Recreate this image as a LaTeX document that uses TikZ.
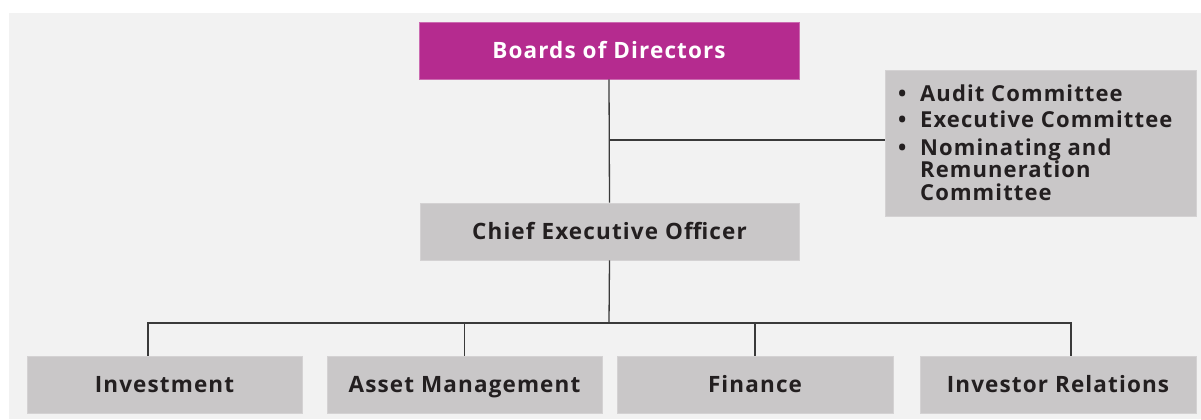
\documentclass[tikz,border=0pt]{standalone}
\usepackage{fontspec}
\setmainfont{Open Sans}[LetterSpace=5]
\definecolor{bgc}{HTML}{F2F2F2}
\definecolor{boxc}{HTML}{C9C7C8}
\definecolor{magc}{HTML}{B52B8F}
\definecolor{txtc}{HTML}{231F20}
\definecolor{linec}{HTML}{3A3A3A}
\tikzset{
  unitbox/.style={fill=boxc, draw=boxc!80!white, line width=0.6bp, inner sep=0pt, minimum height=57bp, text height=17bp, text depth=2bp, text=txtc, font=\bfseries\fontsize{22.5bp}{24bp}\selectfont},
  bossbox/.style={unitbox, fill=magc, draw=magc!70!white, text=white},
  comline/.style={anchor=base west, inner sep=0pt, text height=16bp, text depth=1bp, text=txtc, font=\bfseries\fontsize{22bp}{22bp}\selectfont},
  wire/.style={draw=linec, line width=1.3bp}
}
\begin{document}
\begin{tikzpicture}[x=1bp,y=-1bp]
\useasboundingbox (0,0) rectangle (1201,419);
\fill[white] (0,0) rectangle (1201,419);
\fill[bgc] (9,13) rectangle (1201,419);
\node[bossbox, minimum width=380bp] (bod) at (609,50.5) {Boards of Directors};
\node[unitbox, minimum width=379bp] (ceo) at (609.5,231.5) {Chief Executive Officer};
\node[unitbox, minimum width=311bp, minimum height=146bp, anchor=north west, text height=, text depth=] (com) at (885,70) {};
\node[comline] (b1) at (898,101) {\textbullet};
\node[comline] (c1) at (920,101) {Audit Committee};
\node[comline] (b2) at (898,127) {\textbullet};
\node[comline] (c2) at (920,127) {Executive Committee};
\node[comline] (b3) at (898,155) {\textbullet};
\node[comline] (c3) at (920,155) {Nominating and};
\node[comline] (c4) at (920,177) {Remuneration};
\node[comline] (c5) at (920,200) {Committee};
\node[unitbox, minimum width=275bp] (inv) at (164.5,384.5) {Investment};
\node[unitbox, minimum width=275bp] (asset) at (464.5,384.5) {Asset Management};
\node[unitbox, minimum width=276bp] (fin) at (755,384.5) {Finance};
\node[unitbox, minimum width=276bp] (ir) at (1058,384.5) {Investor Relations};
\coordinate (bus) at (609,323);
\coordinate (tee) at (609,140);
\draw[wire] (bod.south) -- (ceo.north);
\draw[wire] (tee) -- (com.west |- tee);
\draw[wire] (ceo.south) -- (bus);
\draw[wire] (inv.north -| 148,0) |- (bus);
\draw[wire] (ir.north -| 1071,0) |- (bus);
\draw[wire] (asset.north) -- (asset.north |- bus);
\draw[wire] (fin.north) -- (fin.north |- bus);
\end{tikzpicture}
\end{document}
